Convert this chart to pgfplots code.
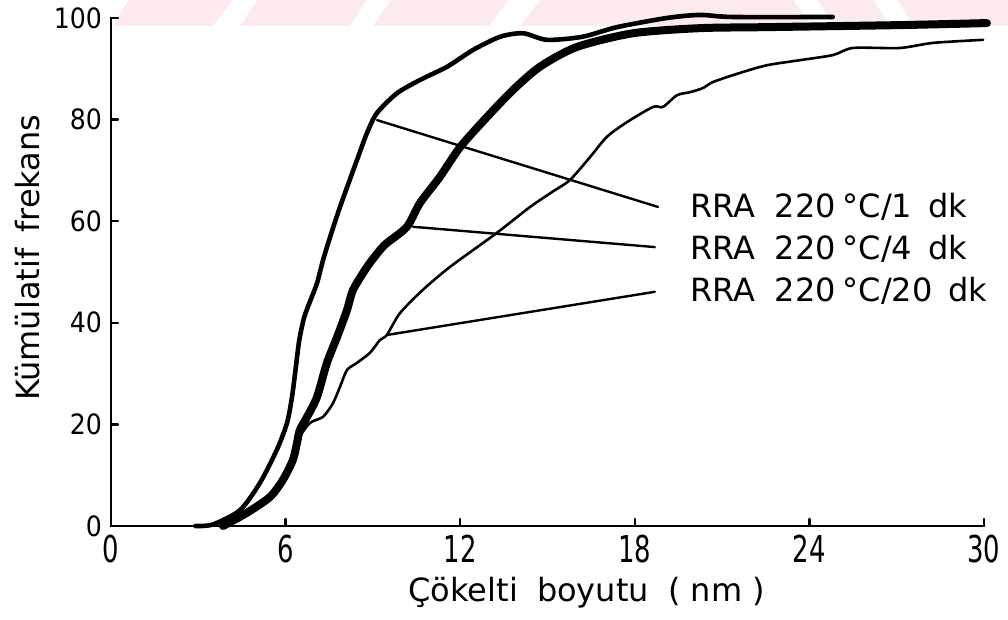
\documentclass[border=0pt]{standalone}
\usepackage{pgfplots}
\pgfplotsset{compat=1.18}
\usepackage{fontspec}
\setmainfont{DejaVu Sans}
\newfontfamily\xtickfont[FakeStretch=0.7]{DejaVu Sans}
\newfontfamily\ytickfont[FakeStretch=0.9]{DejaVu Sans}
\definecolor{bandpink}{RGB}{252,234,237}

% cumulative size distributions, RRA 220 C
\pgfplotstableread{
x y
2.9 0
3.5 0.3
4.43 3.1
5.12 8.5
5.7 15
6.05 20.3
6.22 25.4
6.34 30.7
6.47 36.6
6.64 41.1
6.86 44.5
7.08 47.8
7.29 52.4
7.53 56.9
7.87 62.8
8.45 72
8.8 77.4
9.14 81.3
9.83 85.2
10.62 87.8
11.55 90.4
12.44 93.7
13.37 96.3
14.16 97
14.98 95.7
16.2 96.3
17.39 98.2
19.1 100
20.24 100.6
21.37 100.2
24.8 100.2
}\oneMin
\pgfplotstableread{
x y
3.85 0
4.67 2.6
5.46 5.7
5.91 9.1
6.25 13
6.39 16.3
6.49 18.9
6.74 21.5
7.08 25.4
7.42 32.1
7.77 37.2
8.11 42.5
8.32 46.5
8.8 51
9.24 54.3
9.48 55.7
10.17 58.9
10.62 63.6
11.3 68.7
12.0 74.6
12.92 80.5
13.81 85.8
14.74 90.4
16.01 94.3
17.94 97
20.24 98
22.54 98.2
27.1 98.6
30.1 99
}\fourMin
\pgfplotstableread{
x y
3.85 0
4.67 2.6
5.46 5.7
5.91 9.1
6.25 13
6.49 17.5
6.84 20.3
7.29 21.5
7.63 24.2
7.87 27.4
8.11 30.7
8.45 32.1
8.9 34.1
9.24 36.6
9.48 37.6
9.93 41.9
10.72 46.5
11.65 51
13.26 57.7
14.4 62.8
15.2 65.9
15.77 68.1
16.46 72.6
17.04 76.6
17.73 79.5
18.63 82.5
18.97 82.5
19.45 84.8
19.9 85.4
20.34 86.2
20.69 87.4
21.62 89.2
22.54 90.7
23.68 91.7
24.81 92.7
25.5 94.1
27.11 94.1
28.25 95.1
29.97 95.7
}\twentyMin

\begin{document}
\begin{tikzpicture}
% page frame: 504pt x 310pt
\path[use as bounding box] (0,0) rectangle (504pt,310pt);

% light banner stripes along the top edge
\begin{scope}[x=0.5pt,y=-0.5pt,shift={(0,310pt)}]
  \fill[bandpink] (113,26) -- (128,0) -- (1008,0) -- (1008,26) -- cycle;
  \fill[white] (213,26) -- (233,0) -- (257,0) -- (240,26) -- cycle;
  \fill[white] (350,26) -- (367,0) -- (390,0) -- (373,26) -- cycle;
  \fill[white] (490,26) -- (508,0) -- (540,0) -- (520,26) -- cycle;
  \fill[white] (794,0) -- (817,0) -- (834,26) -- (811,26) -- cycle;
  \fill[white] (874,0) -- (897,0) -- (914,26) -- (890,26) -- cycle;
\end{scope}

\begin{axis}[
  at={(55.5pt,47pt)}, anchor=south west,
  scale only axis, width=436.5pt, height=254pt,
  xmin=0, xmax=30, ymin=0, ymax=100,
  axis x line*=bottom, axis y line*=left,
  axis line style={line width=1.3pt, -},
  xtick={6,12,18,24,30}, ytick={0,20,40,60,80,100},
  extra x ticks={0}, extra x tick style={major tick length=0pt},
  tick align=inside, major tick length=3.5pt,
  tick style={line width=1.2pt, black},
  /pgf/number format/assume math mode=true,
  xticklabel style={font=\xtickfont\fontsize{18.5}{18.5}\selectfont, yshift=-1pt},
  yticklabel style={font=\ytickfont\fontsize{14}{14}\selectfont, xshift=-1pt},
  clip=false,
  line cap=round, line join=round,
]
\addplot[black, line width=2.3pt, smooth, tension=0.45] table {\oneMin};
\addplot[black, line width=4pt, smooth, tension=0.45] table {\fourMin};
\addplot[black, line width=1.3pt, smooth, tension=0.45] table {\twentyMin};

% leader lines to the labels
\addplot[black, line width=1.2pt] coordinates {(9.14,79.9) (18.8,62.8)};
\addplot[black, line width=1.2pt] coordinates {(10.38,58.9) (18.69,54.9)};
\addplot[black, line width=1.2pt] coordinates {(9.48,37.6) (18.69,46.1)};

\node[anchor=base west, inner sep=0pt, font=\fontsize{16}{16}\selectfont] at (axis cs:19.9,60.8) {RRA\hspace{0.6em}220\hspace{0.22em}°C/1\hspace{0.5em}dk};
\node[anchor=base west, inner sep=0pt, font=\fontsize{16}{16}\selectfont] at (axis cs:19.9,52.4) {RRA\hspace{0.6em}220\hspace{0.22em}°C/4\hspace{0.5em}dk};
\node[anchor=base west, inner sep=0pt, font=\fontsize{16}{16}\selectfont] at (axis cs:19.9,44.1) {RRA\hspace{0.6em}220\hspace{0.22em}°C/20\hspace{0.5em}dk};

\node[font=\fontsize{16}{16}\selectfont] at (axis cs:16.35,-13.2) {Çökelti\hspace{0.6em}boyutu\hspace{0.6em}( nm )};
\node[font=\fontsize{16}{16}\selectfont, rotate=90] at (axis cs:-2.85,52.8) {Kümülatif\hspace{0.5em}frekans};
\end{axis}
\end{tikzpicture}
\end{document}
